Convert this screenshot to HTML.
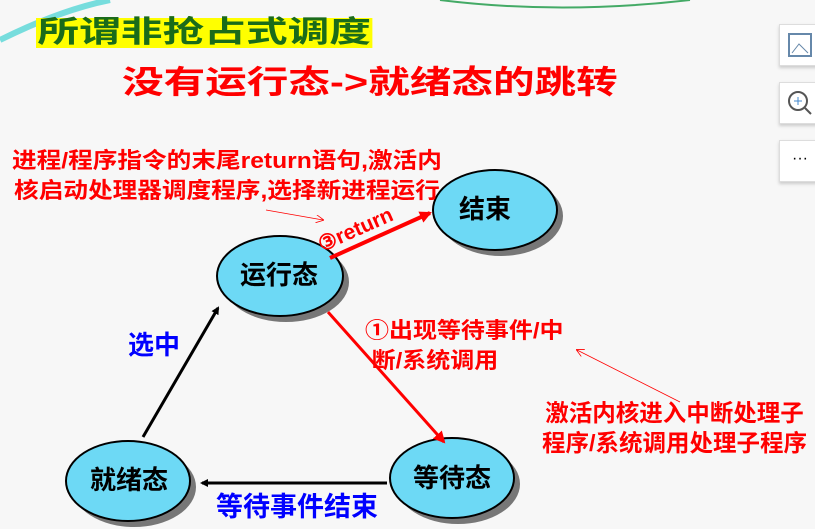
<!DOCTYPE html>
<html><head><meta charset="utf-8"><style>
body{margin:0;width:815px;height:529px;background:#f7f7f7;overflow:hidden;position:relative;font-family:"Liberation Sans","Noto Sans CJK SC",sans-serif;font-weight:bold}
.t{position:absolute;white-space:nowrap}
.side{position:absolute;left:779px;width:40px;height:40px;background:#fff;border:1px solid #ddd;box-shadow:0 2px 3px #ccc}
</style></head><body>
<svg width="815" height="529" style="position:absolute;left:0;top:0">
<defs>
<marker id="ab" markerWidth="8" markerHeight="8" refX="6" refY="4" orient="auto" markerUnits="userSpaceOnUse"><path d="M0,0 L8,4 L0,8z" fill="#000"/></marker>
<marker id="ar" markerWidth="12" markerHeight="12" refX="10" refY="6" orient="auto" markerUnits="userSpaceOnUse"><path d="M0,0 L12,6 L0,12z" fill="#f00"/></marker>
<marker id="ar2" markerWidth="8" markerHeight="8" refX="7" refY="4" orient="auto" markerUnits="userSpaceOnUse"><path d="M0,0 L8,4 L0,8" fill="none" stroke="#f00" stroke-width="0.8"/></marker>
</defs>
<path d="M0,40 Q60,10 110,0" stroke="#7dd" stroke-width="6" fill="none"/>
<path d="M440,0 Q560,15 690,0" stroke="#4a6" stroke-width="2" fill="none"/>
<g fill="#777">
<ellipse cx="501" cy="216" rx="62" ry="40"/><ellipse cx="286" cy="282" rx="63" ry="40"/>
<ellipse cx="134" cy="487" rx="62" ry="40"/><ellipse cx="458" cy="484" rx="62" ry="40"/></g>
<g fill="#6dd9f5" stroke="#000" stroke-width="2">
<ellipse cx="495" cy="210" rx="62" ry="40"/><ellipse cx="280" cy="276" rx="63" ry="40"/>
<ellipse cx="128" cy="481" rx="62" ry="40"/><ellipse cx="452" cy="478" rx="62" ry="40"/></g>
<line x1="143" y1="437" x2="218" y2="308" stroke="#000" stroke-width="3" marker-end="url(#ab)"/>
<line x1="387" y1="483" x2="202" y2="483" stroke="#000" stroke-width="3" marker-end="url(#ab)"/>
<line x1="328" y1="312" x2="444" y2="442" stroke="#f00" stroke-width="3" marker-end="url(#ar)"/>
<line x1="330" y1="258" x2="430" y2="213" stroke="#f00" stroke-width="4" marker-end="url(#ar)"/>
<line x1="266" y1="210" x2="323" y2="220" stroke="#f00" stroke-width="0.8" marker-end="url(#ar2)"/>
<line x1="680" y1="402" x2="577" y2="350" stroke="#f00" stroke-width="0.8" marker-end="url(#ar2)"/>
<text x="322" y="252" transform="rotate(-24 322 252)" fill="#f00" font-size="21" font-weight="bold" font-family="Liberation Sans,sans-serif">③return</text>
</svg>
<div class="t" style="left:36px;top:18px;background:#ff0;color:#1a6b1a;font-size:30px;line-height:30px;padding:0 1px;transform:scaleX(1.39);transform-origin:0 0">所谓非抢占式调度</div>
<div class="t" style="left:122px;top:64px;color:#f00;font-size:32px;line-height:36px;transform:scaleX(1.3);transform-origin:0 0">没有运行态->就绪态的跳转</div>
<div class="t" style="left:12px;top:146px;color:#f00;font-size:22px;line-height:30px;text-align:center;transform:scaleX(1.12);transform-origin:0 0">进程/程序指令的末尾return语句,激活内<br>核启动处理器调度程序,选择新进程运行</div>
<div class="t" style="left:459px;top:196px;font-size:26px;line-height:26px">结束</div>
<div class="t" style="left:240px;top:262px;font-size:26px;line-height:26px">运行态</div>
<div class="t" style="left:90px;top:467px;font-size:26px;line-height:26px">就绪态</div>
<div class="t" style="left:413px;top:465px;font-size:26px;line-height:26px">等待态</div>
<div class="t" style="left:128px;top:332px;color:#00f;font-size:26px;line-height:26px">选中</div>
<div class="t" style="left:216px;top:494px;color:#00f;font-size:27px;line-height:27px">等待事件结束</div>
<div class="t" style="left:365px;top:316px;color:#f00;font-size:22px;line-height:30px;transform:scaleX(1.09);transform-origin:0 0">①出现等待事件/中<br>&nbsp;断/系统调用</div>
<div class="t" style="left:542px;top:398px;color:#f00;font-size:23.5px;line-height:30px;text-align:center">激活内核进入中断处理子<br>程序/系统调用处理子程序</div>
<div class="side" style="top:24px"><svg width="40" height="40"><rect x="9" y="9" width="22" height="22" fill="none" stroke="#68a" stroke-width="2"/><path d="M12,28 L19,19 L28,28" fill="none" stroke="#68a"/></svg></div>
<div class="side" style="top:82px"><svg width="40" height="40"><circle cx="18" cy="18" r="9" fill="none" stroke="#555" stroke-width="2"/><line x1="25" y1="25" x2="31" y2="31" stroke="#555" stroke-width="2"/><path d="M14,18h8M18,14v8" stroke="#48c"/></svg></div>
<div class="side" style="top:140px;font-size:16px;text-align:center;line-height:36px;font-weight:normal">···</div>
</body></html>
